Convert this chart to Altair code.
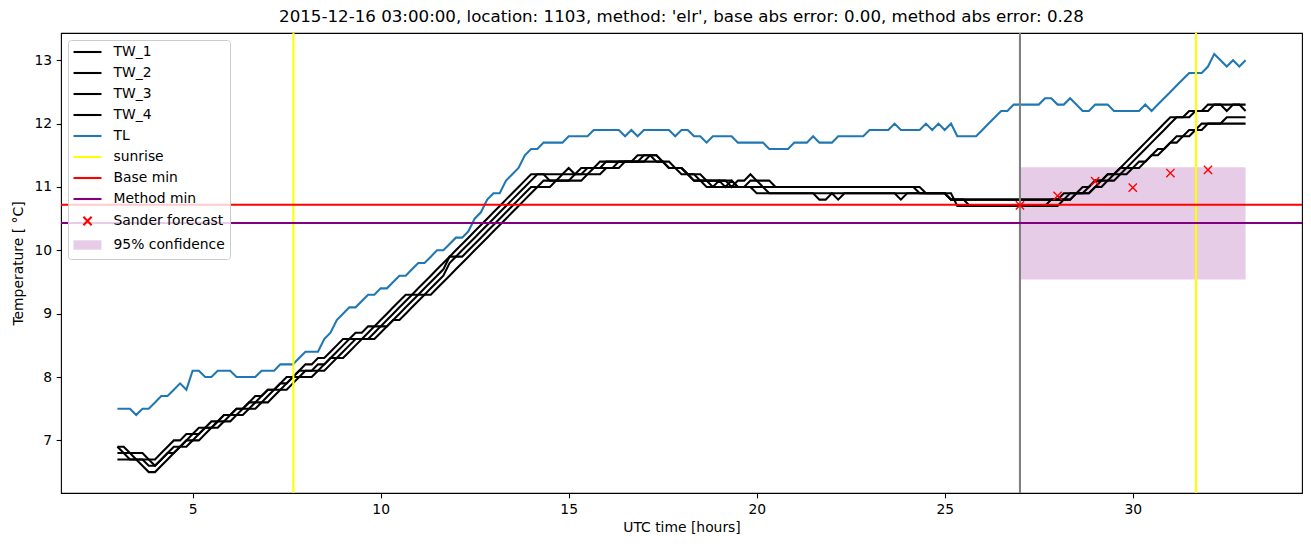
import altair as alt
import pandas as pd

# ---------------- data ----------------
hours = [round(3 + i / 6, 4) for i in range(181)]  # 10-minute samples, 03:00 .. 33:00

TW_1 = [6.9, 6.9, 6.8, 6.8, 6.8, 6.7, 6.7, 6.8, 6.9, 7.0, 7.0, 7.1, 7.1, 7.2, 7.2, 7.3, 7.3, 7.4, 7.4, 7.5,
        7.5, 7.6, 7.7, 7.7, 7.8, 7.8, 7.9, 8.0, 8.0, 8.1, 8.2,
        8.2, 8.3, 8.3, 8.4, 8.5, 8.6, 8.6, 8.7, 8.7, 8.8, 8.8, 8.9, 9.0, 9.1, 9.2, 9.3, 9.3, 9.4, 9.5, 9.6,
        9.7, 9.8, 9.9, 10.0, 10.1, 10.2, 10.3, 10.4, 10.5, 10.6, 10.7, 10.8, 10.9, 11.0,
        11.1, 11.2, 11.2, 11.2, 11.2, 11.2, 11.2, 11.3, 11.2, 11.3, 11.3, 11.3, 11.4, 11.4, 11.4, 11.4, 11.4,
        11.4, 11.5, 11.5, 11.5, 11.5, 11.4, 11.3, 11.3, 11.3, 11.2, 11.2, 11.1, 11.1, 11.1, 11.1,
        11.1, 11.0, 11.1, 11.1, 11.2, 11.1, 11.1, 11.1,
        11.0, 11.0, 11.0, 11.0, 11.0, 11.0, 11.0, 11.0, 11.0, 11.0, 11.0, 11.0, 11.0, 11.0, 11.0, 11.0, 11.0,
        11.0, 11.0, 11.0, 11.0, 11.0, 11.0,
        10.9, 10.9, 10.9, 10.9, 10.9,
        10.8, 10.8, 10.8, 10.8, 10.8, 10.8, 10.8, 10.8, 10.8, 10.8, 10.8, 10.8, 10.8, 10.8, 10.8, 10.8, 10.8,
        10.8, 10.8,
        10.9, 10.9, 10.9, 11.0, 11.1, 11.1, 11.2, 11.2, 11.3, 11.4, 11.5, 11.6, 11.7, 11.8, 11.9, 12.0, 12.1,
        12.1, 12.1, 12.2, 12.2, 12.2,
        12.3, 12.3, 12.3, 12.3, 12.3, 12.3, 12.3]

TW_2 = [6.9, 6.8, 6.8, 6.7, 6.6, 6.5, 6.5, 6.6, 6.7, 6.8, 6.9, 7.0, 7.0, 7.1, 7.2, 7.2, 7.3, 7.3, 7.4, 7.4,
        7.5, 7.5, 7.6, 7.6, 7.7, 7.8, 7.8, 7.9, 8.0, 8.0, 8.1,
        8.1, 8.2, 8.2, 8.3, 8.4, 8.5, 8.6, 8.6, 8.6, 8.7, 8.8, 8.8, 8.9, 9.0, 9.1, 9.2, 9.3, 9.3, 9.4, 9.5,
        9.6, 9.7, 9.9, 9.9, 10.0, 10.1, 10.2, 10.3, 10.4, 10.5, 10.6, 10.7, 10.8, 10.9,
        11.0, 11.1, 11.2, 11.2, 11.1, 11.1, 11.2, 11.2, 11.2, 11.2, 11.3, 11.3, 11.3, 11.4, 11.4, 11.4, 11.4,
        11.4, 11.4, 11.5, 11.5, 11.5, 11.4, 11.4, 11.3, 11.3, 11.2, 11.2, 11.2, 11.1, 11.1, 11.1,
        11.1, 11.1, 11.0, 11.0, 11.1, 11.1, 11.0, 11.0,
        11.0, 11.0, 11.0, 11.0, 11.0, 11.0, 11.0, 11.0, 11.0, 11.0, 11.0, 11.0, 11.0, 11.0, 11.0, 11.0, 11.0,
        11.0, 11.0, 11.0, 11.0, 11.0, 11.0, 11.0,
        10.9, 10.9, 10.9, 10.9,
        10.8, 10.8, 10.8,
        10.7, 10.7, 10.7, 10.7, 10.7, 10.7, 10.7, 10.7, 10.7, 10.7, 10.7, 10.7, 10.7,
        10.8, 10.8, 10.8, 10.8,
        10.9, 10.9, 10.9,
        11.0, 11.1, 11.1, 11.2, 11.3, 11.3, 11.4, 11.5, 11.6, 11.7, 11.8, 11.9, 12.0, 12.1, 12.1, 12.1, 12.2,
        12.2, 12.2, 12.3, 12.3, 12.2, 12.3, 12.3, 12.2]

TW_3 = [6.8, 6.8, 6.7, 6.7, 6.7, 6.6, 6.6, 6.7, 6.8, 6.9, 6.9, 7.0, 7.1, 7.1, 7.2, 7.2, 7.3, 7.4, 7.4, 7.5,
        7.5, 7.6, 7.6, 7.7, 7.8, 7.8, 7.9, 7.9, 8.0, 8.1, 8.1,
        8.1, 8.1, 8.2, 8.3, 8.3, 8.4, 8.5, 8.6, 8.6, 8.6, 8.7, 8.8, 8.8, 8.9, 9.0, 9.1, 9.2, 9.3, 9.3, 9.4,
        9.5, 9.6, 9.8, 9.9, 9.9, 10.0, 10.1, 10.2, 10.3, 10.4, 10.5, 10.6, 10.7, 10.8,
        10.9, 11.0, 11.0, 11.1, 11.1, 11.1, 11.1, 11.1, 11.2, 11.2, 11.2, 11.3, 11.3, 11.3, 11.3, 11.4, 11.4,
        11.4, 11.4, 11.4, 11.5, 11.4, 11.4, 11.3, 11.3, 11.2, 11.2, 11.1, 11.1, 11.1, 11.0, 11.0,
        11.0, 11.0, 11.0, 11.0, 11.0, 11.0, 11.0,
        10.9, 10.9, 10.9, 10.9, 10.9, 10.9, 10.9, 10.9,
        10.8, 10.8, 10.9, 10.8, 10.9,
        10.9, 10.9, 10.9, 10.9, 10.9, 10.9, 10.9, 10.9,
        10.8, 10.9, 10.9, 10.9, 10.9, 10.9, 10.9, 10.9,
        10.8, 10.8, 10.8, 10.8, 10.8, 10.8, 10.8, 10.8, 10.8, 10.8, 10.8, 10.8, 10.8, 10.8, 10.8, 10.8, 10.8,
        10.8,
        10.9, 10.9, 10.9, 11.0, 11.0, 11.1, 11.1, 11.2, 11.2, 11.2, 11.3, 11.3, 11.4, 11.4, 11.5, 11.6, 11.6,
        11.7, 11.8, 11.8, 11.9, 11.9, 12.0, 12.0, 12.0, 12.0, 12.1, 12.1, 12.1, 12.1]

TW_4 = [6.7, 6.7, 6.7, 6.7, 6.7, 6.7, 6.6, 6.7, 6.8, 6.8, 6.9, 6.9, 7.0, 7.0, 7.1, 7.2, 7.2, 7.3, 7.3, 7.4,
        7.4, 7.5, 7.5, 7.6, 7.6, 7.7, 7.8, 7.8, 7.9, 8.0, 8.0,
        8.0, 8.1, 8.1, 8.2, 8.3, 8.3, 8.4, 8.5, 8.6, 8.6, 8.6, 8.7, 8.8, 8.9, 8.9, 9.0, 9.1, 9.2, 9.3, 9.3,
        9.4, 9.5, 9.6, 9.7, 9.8, 9.9, 10.0, 10.1, 10.2, 10.3, 10.4, 10.5, 10.6, 10.7,
        10.8, 10.9, 11.0, 11.0, 11.0, 11.1, 11.1, 11.1, 11.1, 11.1, 11.2, 11.2, 11.2, 11.3, 11.3, 11.3, 11.4,
        11.4, 11.4, 11.4, 11.4, 11.4, 11.4, 11.3, 11.3, 11.3, 11.2, 11.1, 11.1, 11.0, 11.0, 11.1,
        11.0, 11.1, 11.0, 11.0, 11.0,
        10.9, 10.9, 10.9, 10.9, 10.9, 10.9, 10.9, 10.9, 10.9, 10.9, 10.9, 10.9, 10.9, 10.9, 10.9, 10.9, 10.9,
        10.9, 10.9, 10.9, 10.9, 10.9, 10.9, 10.9, 10.9, 10.9, 10.9, 10.9, 10.9, 10.9, 10.9, 10.9,
        10.7, 10.7, 10.7, 10.7, 10.7, 10.7, 10.7, 10.7, 10.7, 10.7, 10.7, 10.7, 10.7, 10.7, 10.7, 10.7, 10.7,
        10.8, 10.8, 10.9, 10.9, 10.9, 11.0, 11.0, 11.1, 11.1, 11.2, 11.2, 11.3, 11.3, 11.4, 11.5, 11.5, 11.6,
        11.7, 11.7, 11.8, 11.8, 11.9, 11.9, 12.0, 12.0, 12.0, 12.0, 12.0, 12.0, 12.0]

TL = [7.5, 7.5, 7.5, 7.4, 7.5, 7.5, 7.6, 7.7, 7.7, 7.8, 7.9, 7.8, 8.1, 8.1, 8.0, 8.0, 8.1, 8.1, 8.1, 8.0,
      8.0, 8.0, 8.0, 8.1, 8.1, 8.1, 8.2, 8.2, 8.2, 8.3, 8.4,
      8.4, 8.4, 8.6, 8.7, 8.9, 9.0, 9.1, 9.1, 9.2, 9.3, 9.3, 9.4, 9.4, 9.5, 9.6, 9.6, 9.7, 9.8, 9.8, 9.9,
      10.0, 10.0, 10.1, 10.2, 10.2, 10.3, 10.5, 10.6, 10.8, 10.9, 10.9, 11.1, 11.2, 11.3,
      11.5, 11.6, 11.6, 11.7, 11.7, 11.7, 11.7, 11.8, 11.8, 11.8, 11.8, 11.9, 11.9, 11.9, 11.9, 11.9, 11.8,
      11.9, 11.8, 11.9, 11.9, 11.9, 11.9, 11.9, 11.8, 11.9, 11.9, 11.8, 11.8, 11.7, 11.8, 11.8,
      11.8, 11.8, 11.7, 11.7, 11.7, 11.7, 11.7, 11.6, 11.6, 11.6, 11.6, 11.7, 11.7, 11.7, 11.8, 11.7, 11.7,
      11.7, 11.8, 11.8, 11.8, 11.8, 11.8, 11.9, 11.9, 11.9, 11.9, 12.0, 11.9, 11.9, 11.9, 11.9, 12.0, 11.9,
      12.0,
      11.9, 12.0, 11.8, 11.8, 11.8, 11.8, 11.9, 12.0, 12.1, 12.2, 12.2, 12.3, 12.3, 12.3, 12.3, 12.3, 12.4,
      12.4, 12.3, 12.3, 12.4, 12.3, 12.2, 12.2,
      12.3, 12.3, 12.3, 12.2, 12.2, 12.2, 12.2, 12.2, 12.3, 12.2, 12.3, 12.4, 12.5, 12.6, 12.7, 12.8, 12.8,
      12.8, 12.9, 13.1, 13.0, 12.9, 13.0, 12.9, 13.0]

sunrise_hours = [7.68, 31.68]
forecast_start = [27.0]
base_min = [10.72]
method_min = [10.43]
forecast_hours = [27, 28, 29, 30, 31, 32]
forecast_values = [10.71, 10.86, 11.09, 10.99, 11.22, 11.27]
conf_hours = [27.0, 33.0]
conf_bounds = [9.54, 11.31]

legend_labels = ["TW_1", "TW_2", "TW_3", "TW_4", "TL", "sunrise", "Base min",
                 "Method min", "Sander forecast", "95% confidence"]

# ---------------- tables ----------------
tw_names = ["TW_1", "TW_2", "TW_3", "TW_4"]
tw_df = pd.concat(
    [pd.DataFrame({"hour": hours, "temp": vals, "series": name})
     for name, vals in zip(tw_names, [TW_1, TW_2, TW_3, TW_4])],
    ignore_index=True,
)
tl_df = pd.DataFrame({"hour": hours, "temp": TL})
sun_df = pd.DataFrame({"hour": sunrise_hours})
start_df = pd.DataFrame({"hour": forecast_start})
base_df = pd.DataFrame({"temp": base_min})
meth_df = pd.DataFrame({"temp": method_min})
fc_df = pd.DataFrame({"hour": forecast_hours, "temp": forecast_values})
conf_df = pd.DataFrame({"hour": [conf_hours[0]], "hour2": [conf_hours[1]],
                        "temp": [conf_bounds[0]], "temp2": [conf_bounds[1]]})
leg_df = pd.DataFrame({"label": legend_labels, "hour": [None] * len(legend_labels),
                       "temp": [None] * len(legend_labels)})

# ---------------- encodings ----------------
FONT = "DejaVu Sans"
FS = 13.89
LW = 2.08
xscale = alt.Scale(domain=[1.5, 34.5], nice=False, zero=False)
yscale = alt.Scale(domain=[6.17, 13.43], nice=False, zero=False)
x_enc = alt.X("hour:Q", scale=xscale,
              axis=alt.Axis(values=[5, 10, 15, 20, 25, 30], title="UTC time [hours]"))
y_enc = alt.Y("temp:Q", scale=yscale,
              axis=alt.Axis(values=[7, 8, 9, 10, 11, 12, 13], title="Temperature [ °C]"))

band = alt.Chart(conf_df).mark_rect(color="purple", opacity=0.2).encode(
    x=x_enc, x2="hour2:Q", y=y_enc, y2="temp2:Q")
tw = alt.Chart(tw_df).mark_line(color="black", strokeWidth=LW).encode(
    x=x_enc, y=y_enc, detail="series:N")
tl = alt.Chart(tl_df).mark_line(color="#1f77b4", strokeWidth=LW).encode(x=x_enc, y=y_enc)
sun = alt.Chart(sun_df).mark_rule(color="yellow", strokeWidth=LW).encode(x=x_enc)
start = alt.Chart(start_df).mark_rule(color="gray", strokeWidth=LW).encode(x=x_enc)
base = alt.Chart(base_df).mark_rule(color="red", strokeWidth=LW).encode(y=y_enc)
meth = alt.Chart(meth_df).mark_rule(color="purple", strokeWidth=LW).encode(y=y_enc)
fc = alt.Chart(fc_df).mark_point(shape="M-1,-1L1,1M-1,1L1,-1", size=69, color="red",
                                 filled=False, strokeWidth=1.39, opacity=1).encode(x=x_enc, y=y_enc)

leg_shapes = ["M-2.33,0L2.33,0"] * 8 + ["M-0.69,-0.69L0.69,0.69M-0.69,0.69L0.69,-0.69",
                                        "M-2.33,-0.78L2.33,-0.78L2.33,0.78L-2.33,0.78Z"]
leg_strokes = ["black", "black", "black", "black", "#1f77b4", "yellow", "red", "purple",
               "red", "transparent"]
leg_fills = ["transparent"] * 9 + ["rgba(128,0,128,0.2)"]

legend = alt.Legend(
    title=None, orient="none", legendX=7, legendY=7,
    labelFont=FONT, labelFontSize=FS, labelColor="black", labelOffset=18.5,
    symbolSize=144, symbolStrokeWidth=LW, symbolOffset=7.5, symbolOpacity=1,
    symbolFillColor="transparent", symbolStrokeColor="black",
    padding=4.5, rowPadding=6, fillColor="rgba(255,255,255,0.8)",
    strokeColor="#cccccc", cornerRadius=3,
)
leg = alt.Chart(leg_df).mark_point(opacity=1).encode(
    x=x_enc, y=y_enc,
    shape=alt.Shape("label:N", scale=alt.Scale(domain=legend_labels, range=leg_shapes), legend=legend),
    stroke=alt.Stroke("label:N", scale=alt.Scale(domain=legend_labels, range=leg_strokes), legend=legend),
    fill=alt.Fill("label:N", scale=alt.Scale(domain=legend_labels, range=leg_fills), legend=legend),
)

title = ("2015-12-16 03:00:00, location: 1103, method: 'elr', base abs error: 0.00, "
         "method abs error: 0.28")

chart = alt.layer(band, tw, tl, sun, start, base, meth, fc, leg).properties(
    width=1241, height=460,
    title=alt.TitleParams(title, fontSize=16.67, fontWeight="normal", font=FONT, offset=6,
                          anchor="middle", color="black"),
    autosize=alt.AutoSizeParams(type="none"),
    padding={"left": 53, "top": 25, "right": 1, "bottom": 42},
).configure_view(stroke="black", strokeWidth=1.1).configure_axis(
    domain=False, grid=False, labelFont=FONT, titleFont=FONT, labelFontSize=FS,
    titleFontSize=FS, titleFontWeight="normal", labelColor="black", titleColor="black",
    tickColor="black", tickSize=4.86, tickWidth=1.1, labelPadding=4.5,
).configure_axisX(titlePadding=4).configure_axisY(titlePadding=8)

chart.save("out.html", embed_options={"renderer": "svg", "actions": False})
